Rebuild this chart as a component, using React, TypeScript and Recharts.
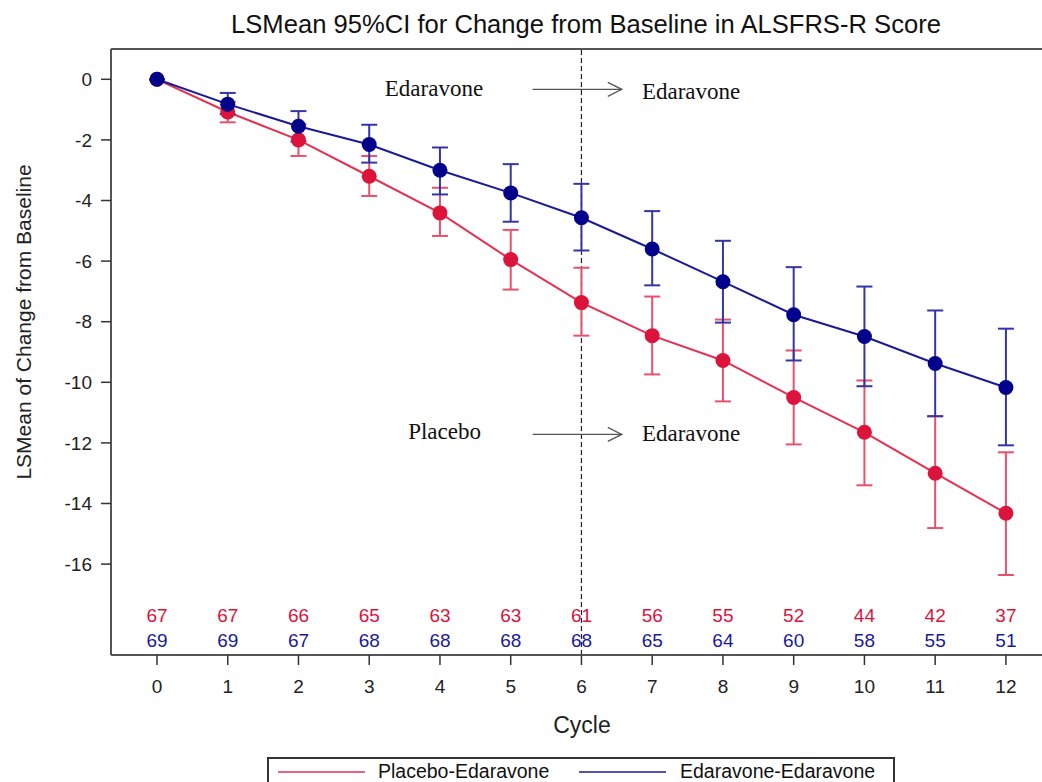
import React from "react"
import {
  ComposedChart,
  Line,
  Scatter,
  XAxis,
  YAxis,
  ErrorBar,
  ReferenceLine,
  ReferenceDot,
} from "recharts"

// values
const cycles = [0, 1, 2, 3, 4, 5, 6, 7, 8, 9, 10, 11, 12]

const placeboMean = [0, -1.08, -2.0, -3.2, -4.41, -5.95, -7.37, -8.46, -9.28, -10.5, -11.65, -13.0, -14.32]
const placeboLow = [0, -1.42, -2.53, -3.85, -5.17, -6.94, -8.46, -9.74, -10.63, -12.05, -13.4, -14.81, -16.36]
const placeboHigh = [0, -0.75, -1.48, -2.53, -3.58, -4.97, -6.22, -7.17, -7.93, -8.95, -9.94, -11.12, -12.31]

const edaravoneMean = [0, -0.82, -1.55, -2.15, -3.0, -3.75, -4.57, -5.6, -6.68, -7.77, -8.49, -9.38, -10.17]
const edaravoneLow = [0, -1.15, -2.05, -2.75, -3.8, -4.7, -5.65, -6.8, -8.03, -9.28, -10.13, -11.12, -12.08]
const edaravoneHigh = [0, -0.45, -1.05, -1.5, -2.25, -2.8, -3.45, -4.35, -5.33, -6.2, -6.84, -7.63, -8.23]

const placeboN = [67, 67, 66, 65, 63, 63, 61, 56, 55, 52, 44, 42, 37]
const edaravoneN = [69, 69, 67, 68, 68, 68, 68, 65, 64, 60, 58, 55, 51]

const yTicks = [0, -2, -4, -6, -8, -10, -12, -14, -16]

const SANS = "'Liberation Sans', Arial, sans-serif"
const SERIF = "'Liberation Serif', 'Times New Roman', serif"
const RED = "#dc143c"
const BLUE = "#00008b"

// rows where the numbers of patients are written
const RED_ROW = -17.71
const BLUE_ROW = -18.53

const data = cycles.map((c, i) => ({
  cycle: c,
  placebo: placeboMean[i],
  placeboErr: [placeboMean[i] - placeboLow[i], placeboHigh[i] - placeboMean[i]],
  edaravone: edaravoneMean[i],
  edaravoneErr: [edaravoneMean[i] - edaravoneLow[i], edaravoneHigh[i] - edaravoneMean[i]],
}))

const redCounts = cycles.map((c, i) => ({ cycle: c, row: RED_ROW, n: placeboN[i] }))
const blueCounts = cycles.map((c, i) => ({ cycle: c, row: BLUE_ROW, n: edaravoneN[i] }))

const notes = [
  { x: 3.22, y: -0.3, text: "Edaravone" },
  { x: 6.855, y: -0.4, text: "Edaravone" },
  { x: 3.55, y: -11.62, text: "Placebo" },
  { x: 6.855, y: -11.69, text: "Edaravone" },
]
const arrows = [
  { from: 5.31, to: 6.57, y: -0.33 },
  { from: 5.31, to: 6.57, y: -11.72 },
]

const Arrow = (p: any) => (
  <g stroke="#555" strokeWidth={1.3} fill="none">
    <line x1={p.x1} y1={p.y1} x2={p.x2} y2={p.y2} />
    <polyline points={`${p.x2 - 14},${p.y2 - 7} ${p.x2},${p.y2} ${p.x2 - 14},${p.y2 + 7}`} />
  </g>
)

const countShape = (color: string) => (p: any) => (
  <text
    x={p.cx}
    y={p.cy}
    textAnchor="middle"
    dominantBaseline="central"
    fontFamily={SANS}
    fontSize={19}
    fill={color}
  >
    {p.payload.n}
  </text>
)

export default function App() {
  return (
    <div style={{ position: "relative", width: 1042, height: 782, overflow: "hidden", background: "#fff" }}>
      <style>{"body{margin:0;overflow:hidden}"}</style>
      <ComposedChart
        width={1042}
        height={782}
        data={data}
        margin={{ top: 49, right: 0, bottom: 0, left: 0 }}
      >
        <XAxis
          dataKey="cycle"
          type="number"
          domain={[-0.65, 12.51]}
          allowDataOverflow
          ticks={cycles}
          tickSize={10}
          tickMargin={15}
          height={127}
          axisLine={{ stroke: "#555", strokeWidth: 2 }}
          tickLine={{ stroke: "#333", strokeWidth: 1.5 }}
          tick={{ fontSize: 19, fill: "#222", fontFamily: SANS }}
        />
        <YAxis
          type="number"
          domain={[-19, 1]}
          allowDataOverflow
          ticks={yTicks}
          tickSize={10}
          tickMargin={9}
          width={111}
          axisLine={{ stroke: "#555", strokeWidth: 2 }}
          tickLine={{ stroke: "#333", strokeWidth: 1.5 }}
          tick={{ fontSize: 19, fill: "#222", fontFamily: SANS }}
        />
        <ReferenceLine y={1} stroke="#555" strokeWidth={2} />
        <ReferenceLine x={6} stroke="#222" strokeWidth={1.2} strokeDasharray="5 3" />
        {arrows.map((a, i) => (
          <ReferenceLine
            key={`arrow-${i}`}
            segment={[{ x: a.from, y: a.y }, { x: a.to, y: a.y }]}
            shape={Arrow}
          />
        ))}
        {notes.map((n, i) => (
          <ReferenceDot
            key={`note-${i}`}
            x={n.x}
            y={n.y}
            r={0}
            shape={(p: any) => (
              <text
                x={p.cx}
                y={p.cy}
                dominantBaseline="central"
                fontFamily={SERIF}
                fontSize={23}
                fill="#111"
              >
                {n.text}
              </text>
            )}
          />
        ))}
        <Line
          dataKey="placebo"
          stroke="#e6304f"
          strokeWidth={2}
          dot={{ r: 7.5, fill: RED, stroke: RED, strokeWidth: 0 }}
          activeDot={false}
          isAnimationActive={false}
        >
          <ErrorBar dataKey="placeboErr" width={8} stroke="#e8506c" strokeWidth={2} direction="y" />
        </Line>
        <Line
          dataKey="edaravone"
          stroke="#1a1a96"
          strokeWidth={2}
          dot={{ r: 7.5, fill: BLUE, stroke: BLUE, strokeWidth: 0 }}
          activeDot={false}
          isAnimationActive={false}
        >
          <ErrorBar dataKey="edaravoneErr" width={8} stroke="#3535a6" strokeWidth={2} direction="y" />
        </Line>
        <Scatter data={redCounts} dataKey="row" shape={countShape(RED)} isAnimationActive={false} />
        <Scatter data={blueCounts} dataKey="row" shape={countShape("#1a1a9c")} isAnimationActive={false} />
        <text x={586} y={33} textAnchor="middle" fontFamily={SANS} fontSize={25.6} fill="#111">
          LSMean 95%CI for Change from Baseline in ALSFRS-R Score
        </text>
        <text x={582} y={733} textAnchor="middle" fontFamily={SANS} fontSize={23} fill="#222">
          Cycle
        </text>
        <text
          transform="translate(31,322) rotate(-90)"
          textAnchor="middle"
          fontFamily={SANS}
          fontSize={21}
          fill="#222"
        >
          LSMean of Change from Baseline
        </text>
      </ComposedChart>
      <div
        style={{
          position: "absolute",
          left: 267,
          top: 757,
          width: 628,
          height: 40,
          border: "2px solid #333",
          boxSizing: "border-box",
          background: "#fff",
        }}
      >
        <svg width={624} height={36} style={{ display: "block" }}>
          <line x1={9} y1={13} x2={96} y2={13} stroke="#e6304f" strokeWidth={1.5} />
          <text x={109} y={19} fontFamily={SANS} fontSize={19.5} fill="#111">
            Placebo-Edaravone
          </text>
          <line x1={310} y1={13} x2={397} y2={13} stroke="#1a1a96" strokeWidth={1.5} />
          <text x={411} y={19} fontFamily={SANS} fontSize={19.5} fill="#111">
            Edaravone-Edaravone
          </text>
        </svg>
      </div>
    </div>
  )
}
